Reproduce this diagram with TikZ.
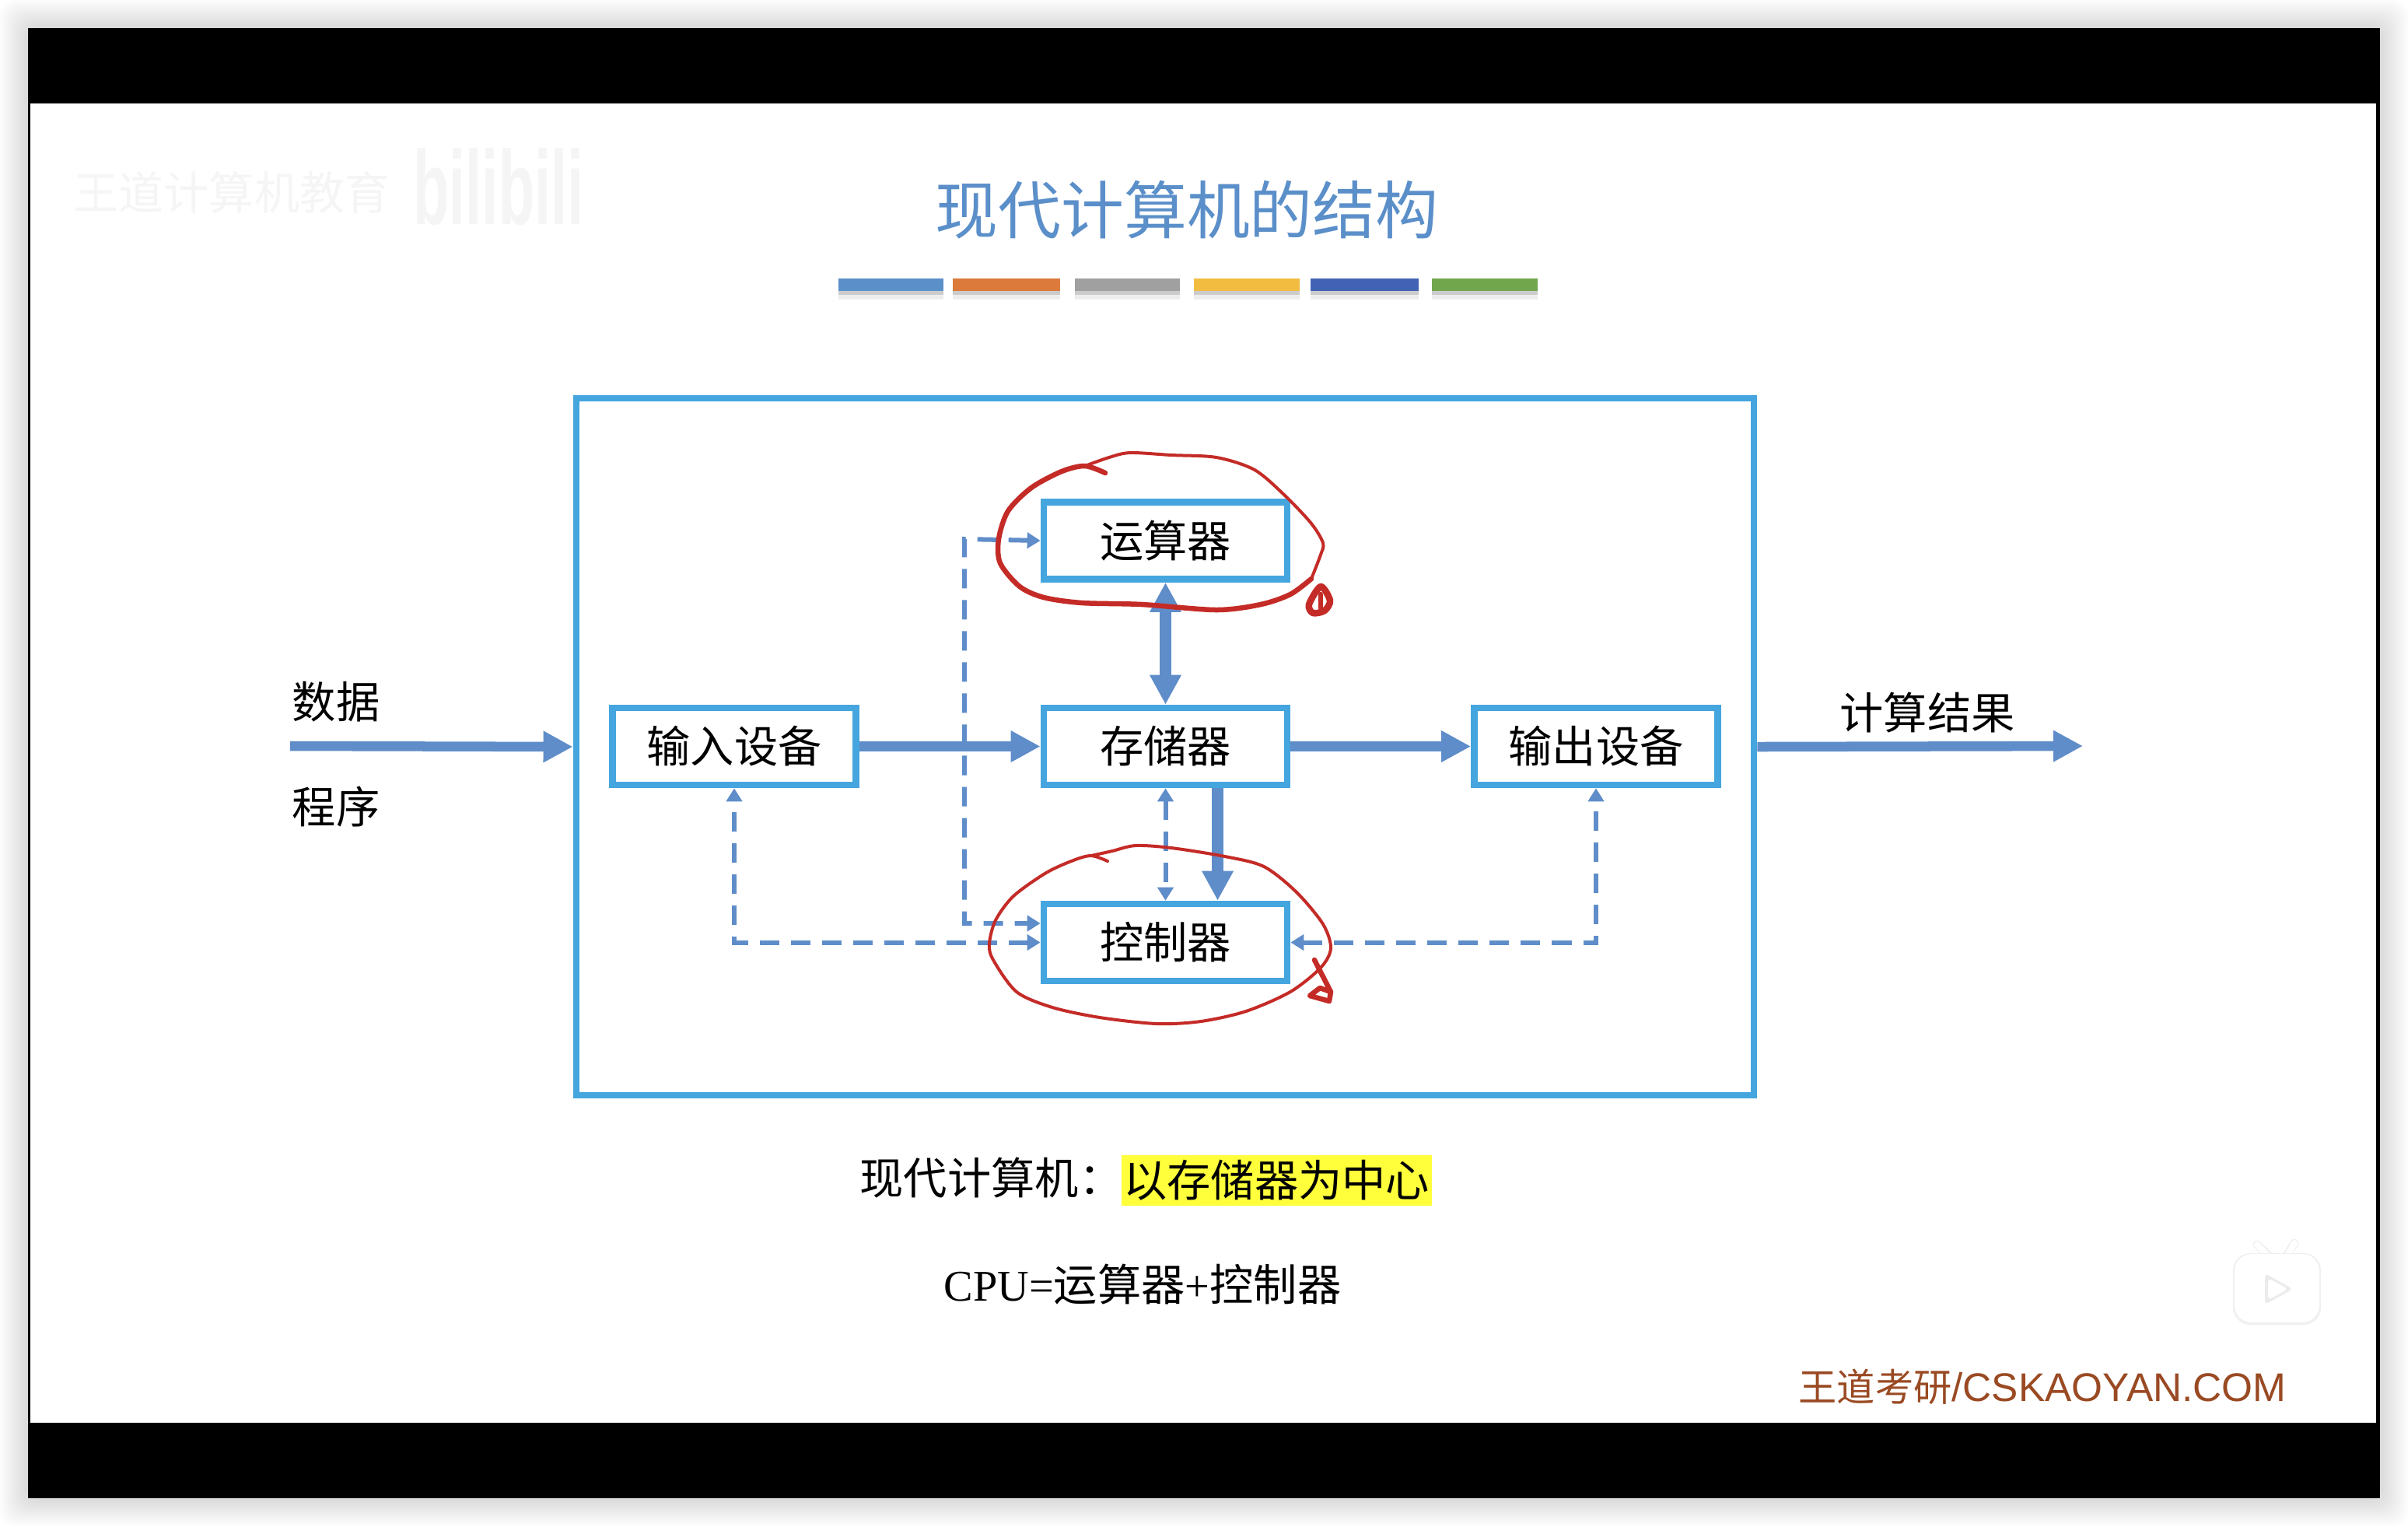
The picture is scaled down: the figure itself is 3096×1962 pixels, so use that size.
\documentclass[tikz,border=0pt]{standalone}
\usepackage{fontspec}
\setmainfont{Liberation Serif}
\newfontfamily\cjk{Noto Sans CJK SC}
\newfontfamily\arial{Liberation Sans}
\usetikzlibrary{arrows.meta}
\definecolor{barblue}{HTML}{5B8FC9}
\definecolor{barorange}{HTML}{DC7A3C}
\definecolor{bargray}{HTML}{A0A0A0}
\definecolor{baryellow}{HTML}{F1BC40}
\definecolor{bardeep}{HTML}{4263B5}
\definecolor{bargreen}{HTML}{72A64D}
\definecolor{flowblue}{HTML}{5F8DC9}
\definecolor{boxblue}{HTML}{45A5DE}
\definecolor{inkred}{HTML}{C42B27}
\definecolor{brandbrown}{HTML}{9A4A23}
\definecolor{markyellow}{HTML}{FFFF3C}
\tikzset{
  unit/.style={draw=boxblue, line width=0.085cm, fill=white, inner sep=0pt,
    minimum width=3.13cm, minimum height=0.99cm, font=\fontsize{16}{19}\selectfont\cjk},
  label/.style={inner sep=0pt, font=\fontsize{16}{19}\selectfont\cjk},
  flow/.style={flowblue, line width=0.125cm, -{Triangle[length=0.38cm,width=0.38cm]}},
  busflow/.style={flowblue, line width=0.15cm, -{Triangle[length=0.38cm,width=0.38cm]}},
  busboth/.style={flowblue, line width=0.15cm, {Triangle[length=0.38cm,width=0.38cm]}-{Triangle[length=0.38cm,width=0.38cm]}},
  signal/.style={flowblue, line width=0.06cm, dash pattern=on 0.25cm off 0.15cm,
    {Triangle[length=0.17cm,width=0.2cm]}-{Triangle[length=0.17cm,width=0.2cm]}},
  pen/.style={inkred, line width=0.065cm, line cap=round, line join=round},
  thinpen/.style={inkred, line width=0.04cm, line cap=round, line join=round}
}
\begin{document}
\begin{tikzpicture}[x=0.01cm, y=-0.01cm]
  \useasboundingbox (0, 0) rectangle (3096, 1962);
  % window
  \fill [white] (0, 0) rectangle (3096, 1962);
  \foreach \s in {1,...,12}
    \fill [black, opacity=0.012, rounded corners=0.2cm] ({36-3*\s}, {36-3*\s}) rectangle ({3060+3*\s}, {1926+3*\s});
  \fill [black] (36, 36) rectangle (3060, 1926);
  \fill [white] (39, 133) rectangle (3055, 1829);
  % watermark
  \node [label, font=\fontsize{16.5}{19}\selectfont\cjk, text=black!4] (mark) at (298, 247) {王道计算机教育};
  \node [inner sep=0pt, text=black!4, font=\arial\bfseries\fontsize{24}{28}\selectfont, xscale=0.9, yscale=1.6] (site) at (641, 240) {bilibili};
  % title
  \node [label, font=\fontsize{23}{27}\selectfont\cjk, text=barblue] (title) at (1526, 270) {现代计算机的结构};
  \foreach \xa/\xb/\barcol in {1078/1213/barblue, 1225/1363/barorange, 1382/1517/bargray, 1535/1671/baryellow, 1685/1824/bardeep, 1841/1977/bargreen} {
    \fill [black, opacity=0.07] (\xa, 374) rectangle (\xb, 385);
    \fill [black, opacity=0.14] (\xa, 374) rectangle (\xb, 379);
    \fill [\barcol] (\xa, 358) rectangle (\xb, 374);
  }
  % frame
  \node [draw=boxblue, line width=0.08cm, inner sep=0pt, minimum width=15.14cm, minimum height=8.96cm] (computer) at (1498, 960) {};
  % units
  \node [unit] (alu) at (1498.5, 695) {运算器};
  \node [unit] (mem) at (1498.5, 959.5) {存储器};
  \node [unit] (ctrl) at (1498.5, 1211.5) {控制器};
  \node [unit] (input) at (944, 959.5) {输入设备};
  \node [unit] (output) at (2052, 959.5) {输出设备};
  % free ends
  \coordinate (datain) at (373, 959);
  \coordinate (resultout) at (2678, 959);
  \coordinate (bustop) at (1240, 693);
  \coordinate (busbot) at (1240, 1187);
  % signals
  \draw [signal] (alu.west) -- (bustop) -- (busbot) -- ([yshift=0.245cm]ctrl.west);
  \draw [signal] (ctrl.west) -| (input.south);
  \draw [signal] (ctrl.east) -| (output.south);
  \draw [signal] (mem.south) -- (ctrl.north);
  % flows
  \draw [flow] (datain) -- (computer.west);
  \draw [flow] (computer.east) -- (resultout);
  \draw [flow] (input.east) -- (mem.west);
  \draw [flow] (mem.east) -- (output.west);
  \draw [busboth] (alu.south) -- (mem.north);
  \draw [busflow] ([xshift=0.67cm]mem.south) -- ([xshift=0.67cm]ctrl.north);
  % labels
  \node [label] (data) at (432, 902) {数据};
  \node [label] (program) at (432, 1037) {程序};
  \node [label] (result) at (2478, 916) {计算结果};
  \node [label, anchor=west] (modern) at (1105, 1514) {现代计算机：};
  \node [label, anchor=west, fill=markyellow, minimum height=0.65cm, minimum width=3.99cm] (center) at (1441, 1517) {以存储器为中心};
  \node [inner sep=0pt, font=\fontsize{16}{19}\selectfont] (cpu) at (1469, 1651) {CPU={\cjk 运算器}+{\cjk 控制器}};
  \node [inner sep=0pt, text=brandbrown, font=\fontsize{14.6}{18}\selectfont\arial] (brand) at (2626, 1783) {{\cjk\fontsize{14}{18}\selectfont 王道考研}/CSKAOYAN.COM};
  % tv
  \draw [line width=0.11cm, line cap=round, draw=black!6] (2902, 1600) -- (2917, 1614) (2950, 1598) -- (2940, 1614);
  \draw [white, line width=0.08cm, line cap=round] (2902, 1600) -- (2917, 1616) (2950, 1598) -- (2940, 1616);
  \fill [black!6, rounded corners=0.22cm] (2871, 1611) rectangle (2984, 1703);
  \fill [white, rounded corners=0.22cm] (2873, 1612) rectangle (2982, 1700);
  \fill [black!8, rounded corners=0.05cm] (2912, 1637) -- (2948, 1657) -- (2912, 1677) -- cycle;
  \fill [white, rounded corners=0.05cm] (2916, 1643) -- (2942, 1657) -- (2916, 1671) -- cycle;
  % red ink
  \draw [pen] plot [smooth] coordinates {(1421, 608) (1395, 599) (1365, 606) (1326, 627) (1296, 657) (1284, 693) (1286, 724) (1311, 754) (1342, 768) (1391, 775) (1468, 777) (1564, 784) (1621, 777) (1659, 764) (1686, 744)};
  \draw [thinpen] plot [smooth] coordinates {(1686, 744) (1698, 713) (1701, 698) (1686, 673) (1652, 637) (1613, 604) (1564, 588) (1506, 585) (1453, 582) (1426, 588) (1395, 599)};
  \draw [pen, line width=0.085cm] plot [smooth cycle] coordinates {(1698, 754) (1710, 772) (1703, 785) (1688, 788) (1683, 777)};
  \draw [pen] (1698, 764) -- (1698, 782);
  \draw [thinpen] plot [smooth] coordinates {(1424, 1107) (1403, 1100) (1380, 1106) (1345, 1122) (1303, 1152) (1280, 1183) (1272, 1213) (1277, 1234) (1307, 1275) (1353, 1295) (1414, 1308) (1487, 1316) (1544, 1313) (1602, 1300) (1659, 1275) (1698, 1244) (1711, 1219) (1701, 1188) (1667, 1147) (1625, 1114) (1575, 1101) (1506, 1090) (1460, 1087) (1430, 1094) (1403, 1100)};
  \draw [pen] (1690, 1234) -- (1711, 1275) -- (1709, 1287) -- (1684, 1280) -- (1697, 1270) -- (1711, 1275);
\end{tikzpicture}
\end{document}
